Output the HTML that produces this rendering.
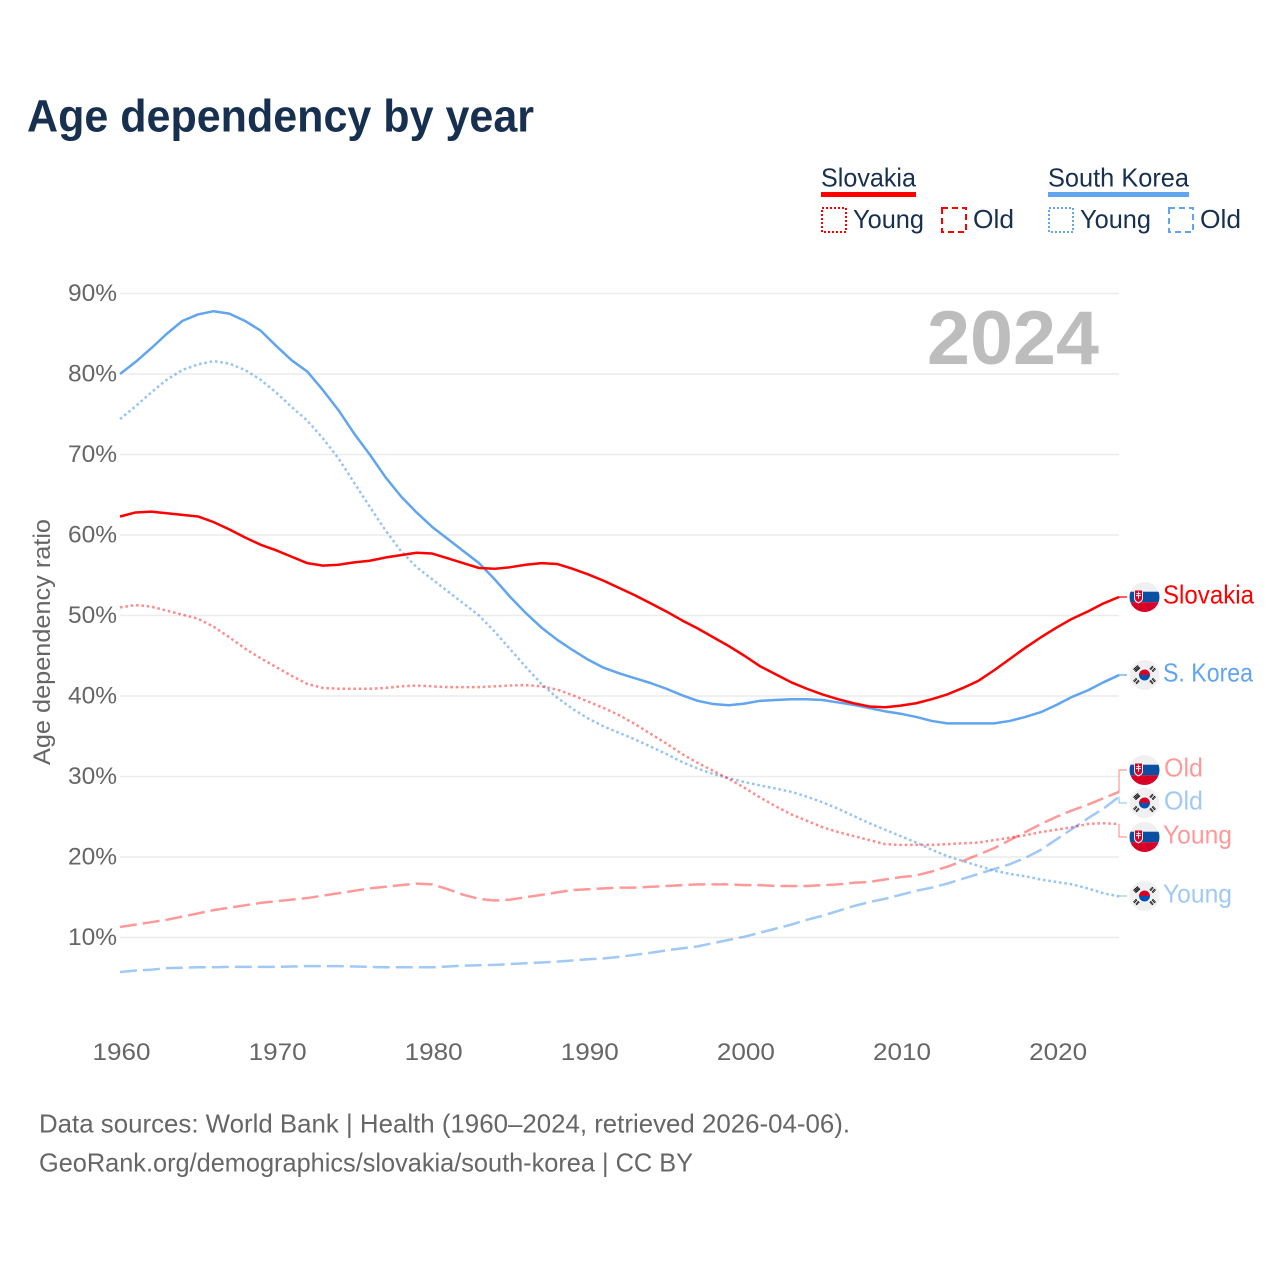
<!DOCTYPE html>
<html lang="en">
<head>
<meta charset="utf-8">
<title>Age dependency by year</title>
<style>
html,body{margin:0;padding:0;background:#fff;}
svg{display:block;}
text{font-family:"Liberation Sans",sans-serif;}
</style>
</head>
<body>
<svg id="chart" xmlns="http://www.w3.org/2000/svg" width="1280" height="1280" viewBox="0 0 1280 1280">
  <defs>
    <clipPath id="flag-clip"><circle cx="0" cy="0" r="15"/></clipPath>
    <g id="flag-sk">
      <g clip-path="url(#flag-clip)">
        <rect x="-15" y="-15" width="30" height="30" fill="#f0f0f0"/>
        <rect x="-15" y="-5.3" width="30" height="10.6" fill="#0b4ea2"/>
        <rect x="-15" y="5.3" width="30" height="10" fill="#d80027"/>
        <path d="M-10.5,-7.5 H-1.5 V1.5 Q-1.5,4.5 -6,6.5 Q-10.5,4.5 -10.5,1.5 Z" fill="#f0f0f0"/>
        <path d="M-9.5,-6.5 H-2.5 V1.2 Q-2.5,3.6 -6,5.2 Q-9.5,3.6 -9.5,1.2 Z" fill="#d80027"/>
        <path d="M-6.5,-5.5 h1 v1.6 h1.6 v1 h-1.6 v1 h2 v1 h-2 v2.6 h-1 v-2.6 h-2 v-1 h2 v-1 h-1.6 v-1 h1.6 Z" fill="#f0f0f0"/>
      </g>
    </g>
    <g id="flag-kr">
      <circle cx="0" cy="0" r="15" fill="#f0f0f0"/>
      <path d="M-5.5,0 A5.5,5.5 0 0 1 5.5,0 Z" fill="#d80027"/>
      <path d="M-5.5,0 A5.5,5.5 0 0 0 5.5,0 Z" fill="#0052b4"/>
      <g stroke="#000" stroke-width="1.1">
        <path d="M-11,-5.5 L-6.5,-9.5 M-10,-4.4 L-5.5,-8.4 M-9,-3.3 L-4.5,-7.3"/>
        <path d="M11,-5.5 L6.5,-9.5 M10,-4.4 L5.5,-8.4 M9,-3.3 L4.5,-7.3" stroke-dasharray="2 1"/>
        <path d="M-11,5.5 L-6.5,9.5 M-10,4.4 L-5.5,8.4 M-9,3.3 L-4.5,7.3" stroke-dasharray="2 1"/>
        <path d="M11,5.5 L6.5,9.5 M10,4.4 L5.5,8.4 M9,3.3 L4.5,7.3" stroke-dasharray="2 1"/>
      </g>
    </g>
  </defs>

  <text x="27" y="131.5" font-size="45" font-weight="700" fill="#17304f" textLength="507" lengthAdjust="spacingAndGlyphs">Age dependency by year</text>

  <g>
    <g>
      <text x="821" y="186.5" font-size="26" fill="#17304f" textLength="95" lengthAdjust="spacingAndGlyphs">Slovakia</text>
      <rect x="821" y="192" width="95" height="5" fill="#ff0000"/>
      <rect x="822" y="208" width="24" height="24" fill="none" stroke="#ff0000" stroke-width="2" stroke-dasharray="2 2"/>
      <text x="853" y="228" font-size="26" fill="#17304f" textLength="71" lengthAdjust="spacingAndGlyphs">Young</text>
      <rect x="942" y="208" width="24" height="24" fill="none" stroke="#ff0000" stroke-width="2" stroke-dasharray="6 4"/>
      <text x="973" y="228" font-size="26" fill="#17304f" textLength="41" lengthAdjust="spacingAndGlyphs">Old</text>
    </g>
    <g>
      <text x="1048" y="186.5" font-size="26" fill="#17304f" textLength="141" lengthAdjust="spacingAndGlyphs">South Korea</text>
      <rect x="1048" y="192" width="141" height="5" fill="#60a5ee"/>
      <rect x="1049" y="208" width="24" height="24" fill="none" stroke="#60a5ee" stroke-width="2" stroke-dasharray="2 2"/>
      <text x="1080" y="228" font-size="26" fill="#17304f" textLength="71" lengthAdjust="spacingAndGlyphs">Young</text>
      <rect x="1169" y="208" width="24" height="24" fill="none" stroke="#60a5ee" stroke-width="2" stroke-dasharray="6 4"/>
      <text x="1200" y="228" font-size="26" fill="#17304f" textLength="41" lengthAdjust="spacingAndGlyphs">Old</text>
    </g>
  </g>

  <g id="grid"></g>
  <g id="y-axis"></g>
  <g id="x-axis"></g>

  <text transform="translate(50,642) rotate(-90)" text-anchor="middle" font-size="24.5" fill="#666666" textLength="246" lengthAdjust="spacingAndGlyphs">Age dependency ratio</text>

  <text x="927" y="364" font-size="76" font-weight="700" fill="#bdbdbd" textLength="172" lengthAdjust="spacingAndGlyphs">2024</text>

  <g id="series"></g>
  <g id="connectors"></g>

  <g>
    <use href="#flag-sk" x="1144.5" y="597"/>
    <text x="1163" y="603.5" font-size="26" fill="#ff0000" textLength="91" lengthAdjust="spacingAndGlyphs">Slovakia</text>
    <use href="#flag-kr" x="1144.5" y="675"/>
    <text x="1163" y="681.5" font-size="26" fill="#60a5ee" textLength="90" lengthAdjust="spacingAndGlyphs">S. Korea</text>
    <use href="#flag-sk" x="1144.5" y="770"/>
    <text x="1164" y="776.5" font-size="26" fill="#ff0000" fill-opacity="0.4" textLength="39" lengthAdjust="spacingAndGlyphs">Old</text>
    <use href="#flag-kr" x="1144.5" y="803"/>
    <text x="1164" y="809.5" font-size="26" fill="#60a5ee" fill-opacity="0.6" textLength="39" lengthAdjust="spacingAndGlyphs">Old</text>
    <use href="#flag-sk" x="1144.5" y="837"/>
    <text x="1163" y="843.5" font-size="26" fill="#ff0000" fill-opacity="0.4" textLength="69" lengthAdjust="spacingAndGlyphs">Young</text>
    <use href="#flag-kr" x="1144.5" y="896"/>
    <text x="1163" y="902.5" font-size="26" fill="#60a5ee" fill-opacity="0.6" textLength="69" lengthAdjust="spacingAndGlyphs">Young</text>
  </g>

  <text x="39" y="1132.5" font-size="26" fill="#666666" textLength="811" lengthAdjust="spacingAndGlyphs">Data sources: World Bank | Health (1960–2024, retrieved 2026-04-06).</text>
  <text x="39" y="1171.5" font-size="26" fill="#666666" textLength="654" lengthAdjust="spacingAndGlyphs">GeoRank.org/demographics/slovakia/south-korea | CC BY</text>
</svg>
<script>
const startYear = 1960;
const yTickValues = [10, 20, 30, 40, 50, 60, 70, 80, 90];
const yTickLabels = ["10%", "20%", "30%", "40%", "50%", "60%", "70%", "80%", "90%"];
const xTickValues = [1960, 1970, 1980, 1990, 2000, 2010, 2020];
const xTickLabels = ["1960", "1970", "1980", "1990", "2000", "2010", "2020"];

const koreaTotal = [80.0,81.5,83.2,85.0,86.6,87.4,87.8,87.5,86.6,85.4,83.5,81.7,80.3,78.0,75.5,72.6,70.0,67.2,64.8,62.8,61.0,59.5,58.0,56.5,54.5,52.3,50.3,48.5,47.0,45.7,44.5,43.5,42.8,42.2,41.6,40.9,40.1,39.4,39.0,38.85,39.05,39.4,39.5,39.6,39.6,39.5,39.2,38.9,38.5,38.1,37.8,37.4,36.9,36.6,36.6,36.6,36.6,36.9,37.4,38.0,38.9,39.9,40.7,41.7,42.6];
const slovakiaTotal = [62.3,62.8,62.9,62.7,62.5,62.3,61.6,60.7,59.7,58.8,58.1,57.3,56.5,56.2,56.3,56.6,56.8,57.2,57.5,57.8,57.7,57.1,56.5,55.9,55.8,56.0,56.3,56.5,56.4,55.8,55.1,54.3,53.4,52.5,51.5,50.5,49.4,48.4,47.3,46.2,45.0,43.7,42.7,41.7,40.9,40.2,39.6,39.1,38.7,38.6,38.8,39.1,39.6,40.2,41.0,41.9,43.2,44.6,46.0,47.3,48.5,49.6,50.5,51.5,52.3];
const koreaYoung = [74.4,76.0,77.7,79.3,80.5,81.2,81.6,81.3,80.5,79.3,77.7,75.9,74.2,72.0,69.5,66.5,63.5,60.6,58.0,56.0,54.5,53.0,51.5,50.0,48.0,45.8,43.6,41.5,39.8,38.4,37.2,36.2,35.4,34.6,33.7,32.8,31.8,31.0,30.3,29.8,29.3,28.9,28.5,28.1,27.5,26.8,26.0,25.1,24.2,23.4,22.6,21.8,20.9,20.1,19.5,18.9,18.3,17.9,17.6,17.2,16.9,16.6,16.1,15.5,15.1];
const slovakiaYoung = [51.0,51.3,51.1,50.6,50.1,49.6,48.6,47.3,45.9,44.7,43.6,42.5,41.5,41.0,40.9,40.9,40.9,41.0,41.2,41.3,41.2,41.1,41.1,41.1,41.2,41.3,41.35,41.2,40.8,40.1,39.3,38.5,37.6,36.5,35.3,34.1,32.8,31.7,30.7,29.7,28.6,27.4,26.3,25.3,24.5,23.7,23.1,22.6,22.1,21.6,21.5,21.5,21.5,21.6,21.7,21.8,22.1,22.4,22.7,23.1,23.4,23.7,24.1,24.2,24.1];
const slovakiaOld = [11.3,11.6,11.9,12.2,12.6,13.0,13.4,13.7,14.0,14.3,14.5,14.7,14.9,15.2,15.5,15.8,16.1,16.3,16.5,16.7,16.6,16.0,15.3,14.8,14.6,14.7,15.0,15.3,15.6,15.9,16.0,16.1,16.2,16.2,16.3,16.4,16.5,16.6,16.6,16.6,16.5,16.5,16.4,16.4,16.4,16.5,16.6,16.8,16.9,17.2,17.5,17.7,18.2,18.8,19.5,20.3,21.1,22.1,23.1,24.1,25.0,25.8,26.5,27.3,28.1];
const koreaOld = [5.7,5.9,6.0,6.2,6.25,6.3,6.3,6.35,6.35,6.35,6.35,6.4,6.45,6.45,6.45,6.4,6.35,6.3,6.3,6.3,6.3,6.4,6.5,6.55,6.6,6.7,6.8,6.9,7.0,7.15,7.3,7.4,7.6,7.85,8.1,8.4,8.65,8.9,9.3,9.7,10.1,10.6,11.1,11.6,12.2,12.7,13.3,13.9,14.4,14.8,15.3,15.8,16.2,16.7,17.3,17.9,18.5,19.1,19.9,20.9,22.2,23.5,24.8,26.0,27.5];

const SVG_NS = "http://www.w3.org/2000/svg";
const RED = "#ff0000";
const BLUE = "#60a5ee";
const X_LEFT = 120;
const X_STEP = 15.61;
const Y_ZERO = 1018;
const Y_STEP = 8.05;

function xScale(year) { return X_LEFT + (year - startYear) * X_STEP; }
function yScale(value) { return Y_ZERO - value * Y_STEP; }
function lastOf(values) { return values[values.length - 1]; }
function make(tag, parent) {
  const el = document.createElementNS(SVG_NS, tag);
  parent.appendChild(el);
  return el;
}

const gridGroup = document.getElementById("grid");
const yAxisGroup = document.getElementById("y-axis");
const xAxisGroup = document.getElementById("x-axis");
const seriesGroup = document.getElementById("series");
const connectorGroup = document.getElementById("connectors");
const xRight = xScale(startYear + koreaTotal.length - 1);

yTickValues.forEach(function (value, i) {
  const line = make("line", gridGroup);
  
  
  line.setAttribute("x1", X_LEFT);
  line.setAttribute("x2", xRight);
  line.setAttribute("y1", yScale(value));
  line.setAttribute("y2", yScale(value));
  line.setAttribute("stroke", "#ececec");
  line.setAttribute("stroke-width", "1.5");

  const label = make("text", yAxisGroup);
  
  
  label.setAttribute("x", 117);
  label.setAttribute("y", yScale(value) + 7.5);
  label.setAttribute("text-anchor", "end");
  label.setAttribute("font-size", "24.5");
  label.setAttribute("fill", "#666666");
  label.textContent = yTickLabels[i];
});

xTickValues.forEach(function (year, i) {
  const label = make("text", xAxisGroup);
  
  
  label.setAttribute("x", xScale(year) + 1.5);
  label.setAttribute("y", 1060);
  label.setAttribute("text-anchor", "middle");
  label.setAttribute("font-size", "24.5");
  label.setAttribute("fill", "#666666");
  label.setAttribute("textLength", "58");
  label.setAttribute("lengthAdjust", "spacingAndGlyphs");
  label.textContent = xTickLabels[i];
});

function drawLine(values, name, color, opacity, dash) {
  const path = make("path", seriesGroup);
  
  
  path.setAttribute("d", values.map(function (v, i) {
    return (i ? "L" : "M") + xScale(startYear + i).toFixed(2) + "," + yScale(v).toFixed(2);
  }).join(" "));
  path.setAttribute("fill", "none");
  path.setAttribute("stroke", color);
  path.setAttribute("stroke-opacity", opacity);
  path.setAttribute("stroke-width", "2.5");
  path.setAttribute("stroke-linejoin", "round");
  if (dash) {
    path.setAttribute("stroke-dasharray", dash);
  }
}

drawLine(koreaOld, "line-korea-old", BLUE, 0.6, "17 6");
drawLine(slovakiaOld, "line-slovakia-old", RED, 0.4, "17 6");
drawLine(koreaYoung, "line-korea-young", BLUE, 0.65, "2.6 2.8");
drawLine(slovakiaYoung, "line-slovakia-young", RED, 0.45, "2.6 2.8");
drawLine(koreaTotal, "line-korea-total", BLUE, 1, "");
drawLine(slovakiaTotal, "line-slovakia-total", RED, 1, "");

function drawConnector(values, labelY, name, color, opacity) {
  const path = make("path", connectorGroup);
  
  
  const endY = yScale(lastOf(values));
  path.setAttribute("d", "M" + xRight + "," + endY.toFixed(2) + " V" + labelY + " H1127");
  path.setAttribute("fill", "none");
  path.setAttribute("stroke", color);
  path.setAttribute("stroke-opacity", opacity);
  path.setAttribute("stroke-width", "1.2");
}

drawConnector(slovakiaTotal, 597, "connector-slovakia-total", RED, 1);
drawConnector(koreaTotal, 675, "connector-korea-total", BLUE, 1);
drawConnector(slovakiaOld, 770, "connector-slovakia-old", RED, 0.4);
drawConnector(koreaOld, 803, "connector-korea-old", BLUE, 0.6);
drawConnector(slovakiaYoung, 837, "connector-slovakia-young", RED, 0.4);
drawConnector(koreaYoung, 896, "connector-korea-young", BLUE, 0.6);
</script>
</body>
</html>
